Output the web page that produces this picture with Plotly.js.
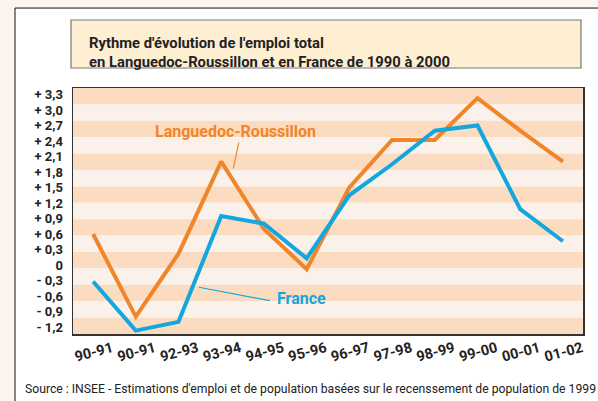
<!DOCTYPE html>
<html>
<head>
<meta charset="utf-8">
<script src="https://cdn.plot.ly/plotly-3.0.1.min.js"></script>
<style>html,body{margin:0;padding:0;background:#fcf4ef;}#chart{width:598px;height:401px;}</style>
</head>
<body>
<div id="chart"></div>
<script>
// Data
const periods = ["90-91","90-91","92-93","93-94","94-95","95-96","96-97","97-98","98-99","99-00","00-01","01-02"];
const languedocRoussillon = [0.6, -1.0, 0.22, 2.0, 0.7, -0.08, 1.5, 2.42, 2.42, 3.23, 2.6, 2.0];
const france = [-0.32, -1.27, -1.1, 0.95, 0.8, 0.13, 1.35, 1.95, 2.6, 2.7, 1.08, 0.46];
const yTickValues = [3.3, 3.0, 2.7, 2.4, 2.1, 1.8, 1.5, 1.2, 0.9, 0.6, 0.3, 0, -0.3, -0.6, -0.9, -1.2];
const yTickLabels = ["+ 3,3","+ 3,0","+ 2,7","+ 2,4","+ 2,1","+ 1,8","+ 1,5","+ 1,2","+ 0,9","+ 0,6","+ 0,3","0","- 0,3","- 0,6","- 0,9","- 1,2"];

const ORANGE = "#f0862a";
const BLUE = "#14a6de";
const FONT = "Roboto, 'Open Sans', sans-serif";

const xIdx = periods.map((_, i) => i);

// background shapes: outer white box, stripes, title box
const shapes = [];
shapes.push({type:"rect", xref:"paper", yref:"paper", x0:-0.1137, x1:1.2, y0:-0.4, y1:1.325,
  fillcolor:"#ffffff", line:{color:"#111", width:1}, layer:"below"});
const nBands = 15;
for (let i = 0; i < nBands; i++) {
  shapes.push({type:"rect", xref:"paper", yref:"paper", x0:0, x1:1,
    y1: 1 - i/nBands, y0: 1 - (i+1)/nBands,
    fillcolor: i % 2 === 0 ? "#fcdcc0" : "#fbf1eb", line:{width:0}, layer:"below"});
}
shapes.push({type:"rect", xref:"paper", yref:"paper", x0:-0.0039, x1:0.996, y0:1.0813, y1:1.2764,
  fillcolor:"#feefd3", line:{color:"#777", width:1.2}, layer:"below"});
// leader lines
shapes.push({type:"line", xref:"x", yref:"y", x0:3.41, y0:2.37, x1:3.283, y1:1.87, line:{color:ORANGE, width:1.2}});
shapes.push({type:"line", xref:"x", yref:"y", x0:2.48, y0:-0.43, x1:4.14, y1:-0.69, line:{color:BLUE, width:1.2}});

const traces = [
  {x:xIdx, y:languedocRoussillon, type:"scatter", mode:"lines", name:"Languedoc-Roussillon",
   line:{color:ORANGE, width:4}},
  {x:xIdx, y:france, type:"scatter", mode:"lines", name:"France",
   line:{color:BLUE, width:4}}
];

const layout = {
  width:598, height:401,
  margin:{l:73, r:15, t:88, b:67},
  paper_bgcolor:"#fcf4ef",
  plot_bgcolor:"rgba(0,0,0,0)",
  showlegend:false,
  font:{family:FONT, color:"#222"},
  title:{
    text:"Rythme d'évolution de l'emploi total<br>en Languedoc-Roussillon et en France de 1990 à 2000",
    x:89/598, xref:"container", xanchor:"left",
    y:1-48/401, yref:"container", yanchor:"middle",
    font:{family:FONT, size:14.8, color:"#222", weight:700}
  },
  xaxis:{
    range:[-0.47, 11.47], tickvals:xIdx, ticktext:periods, tickangle:-15,
    ticklabelshift:19, ticklabelstandoff:-1,
    tickfont:{family:FONT, size:14.5, color:"#222", weight:700},
    showgrid:false, zeroline:false, showline:true, linecolor:"#333", linewidth:1.5, mirror:true, ticks:""
  },
  yaxis:{
    range:[-1.335, 3.426], tickvals:yTickValues, ticktext:yTickLabels,
    ticklabelstandoff:6,
    tickfont:{family:FONT, size:13, color:"#222", weight:700},
    showgrid:false, zeroline:false, showline:true, linecolor:"#333", linewidth:1.5, mirror:true, ticks:""
  },
  shapes:shapes,
  annotations:[
    {x:3.335, y:2.59, xref:"x", yref:"y", text:"Languedoc-Roussillon", showarrow:false,
     font:{family:FONT, size:16, color:ORANGE, weight:700}},
    {x:4.87, y:-0.645, xref:"x", yref:"y", text:"France", showarrow:false,
     font:{family:FONT, size:16, color:BLUE, weight:700}},
    {x:-0.098, y:-0.2236, xref:"paper", yref:"paper", xanchor:"left", yanchor:"middle",
     text:"Source : INSEE - Estimations d'emploi et de population basées sur le recenssement de population de 1999",
     showarrow:false, font:{family:FONT, size:12.2, color:"#222"}}
  ]
};

Plotly.newPlot("chart", traces, layout, {displayModeBar:false, staticPlot:true});
</script>
</body>
</html>
